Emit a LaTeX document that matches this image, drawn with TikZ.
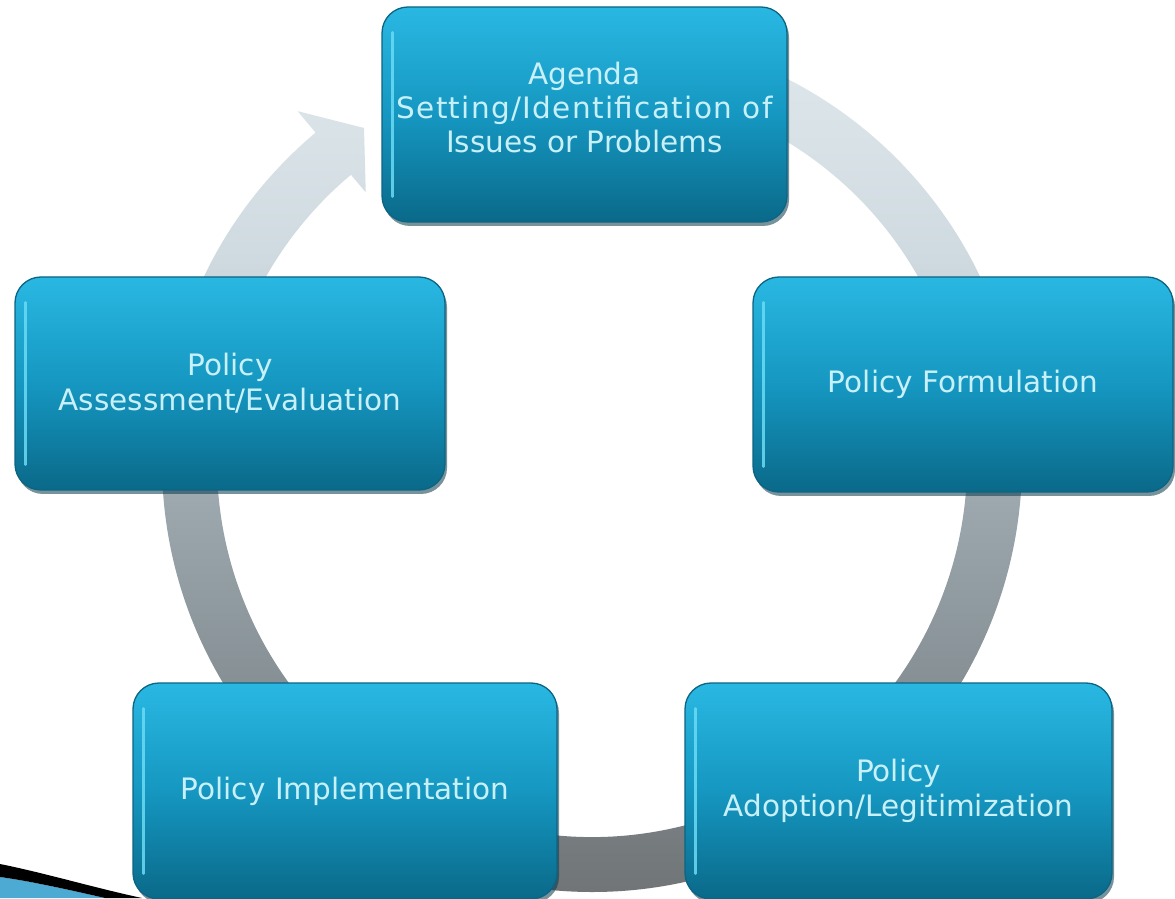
\documentclass[tikz,border=0pt]{standalone}
\usepackage{fontspec}
\setmainfont{DejaVu Sans}
\usetikzlibrary{shadows}
\definecolor{txt}{HTML}{C8F0F8}
\definecolor{boxtop}{HTML}{29B8E2}
\definecolor{boxmid}{HTML}{1597C1}
\definecolor{boxbot}{HTML}{0A6989}
\definecolor{boxedge}{HTML}{0C6483}
\definecolor{shadowc}{HTML}{0A3A4C}
\definecolor{hlc}{HTML}{6ADBF5}
\definecolor{ra}{HTML}{E2EAEE}
\definecolor{rb}{HTML}{CFDAE0}
\definecolor{rc}{HTML}{9CA7AD}
\definecolor{rd}{HTML}{818B90}
\definecolor{re}{HTML}{6C6E6F}
\definecolor{swblue}{HTML}{4DAAD2}
\pgfdeclareverticalshading{ringshade}{100bp}{color(0bp)=(re); color(25bp)=(re); color(37bp)=(rd); color(48bp)=(rc); color(61bp)=(rb); color(75bp)=(ra); color(100bp)=(ra)}
\tikzset{
  stagebox/.style={rectangle, rounded corners=26pt, draw=boxedge, line width=1.3pt,
    top color=boxtop, bottom color=boxbot, middle color=boxmid,
    text=txt, align=center, inner sep=2pt,
    font=\fontsize{29.5}{35}\selectfont,
    drop shadow={shadow xshift=2pt, shadow yshift=-4pt, fill=shadowc, opacity=0.55}},
  hl/.style={draw=hlc, line width=2.5pt, line cap=round, opacity=0.85}
}
\begin{document}
\begin{tikzpicture}[x=1pt,y=1pt]
\useasboundingbox (0,0) rectangle (1175,898);
\fill[white] (0,0) rectangle (1175,898);
% circular arrow
\coordinate (c) at (592,436);
\coordinate (headmid) at (364,770);
\shade[shading=ringshade]
  ([shift={(130:430)}]c) arc[start angle=130, end angle=470, radius=430]
  -- ([shift={(470:375)}]c) arc[start angle=470, end angle=130, radius=375] -- cycle
  ([shift={(130:458)}]c) -- (headmid) -- ([shift={(130:352)}]c) -- cycle;
% slide swoosh bottom left
\fill[swblue] (0,0) -- (0,21) .. controls (30,17) and (70,8) .. (105,0) -- cycle;
\fill[black] (0,34) .. controls (45,25) and (95,10) .. (142,0) -- (105,0)
  .. controls (70,8) and (30,17) .. (0,21) -- cycle;
% boxes
\node[stagebox, minimum width=405pt, minimum height=215pt] (agenda) at (584.5,783.5) {};
\node[text=txt, align=center, font=\fontsize{29.5}{34}\selectfont] (agendatxt) at (584.5,790.5)
  {Agenda\\{\addfontfeature{LetterSpace=4.5}Setting/Identification of}\\Issues or Problems};
\node[stagebox, minimum width=420pt, minimum height=215pt] (form) at (963,513.5) {Policy Formulation};
\node[stagebox, minimum width=427pt, minimum height=216pt] (adopt) at (898.5,107) {Policy\\Adoption/Legitimization};
\node[stagebox, minimum width=424pt, minimum height=216pt] (impl) at (345,107) {Policy Implementation};
\node[stagebox, minimum width=430pt, minimum height=213pt] (eval) at (230,514.5) {Policy\\Assessment/Evaluation};
% left-edge highlights
\foreach \b in {agenda,form,adopt,impl,eval}{
  \draw[hl] ([xshift=11pt,yshift=26pt]\b.south west) -- ([xshift=11pt,yshift=-26pt]\b.north west);
}
\end{tikzpicture}
\end{document}
